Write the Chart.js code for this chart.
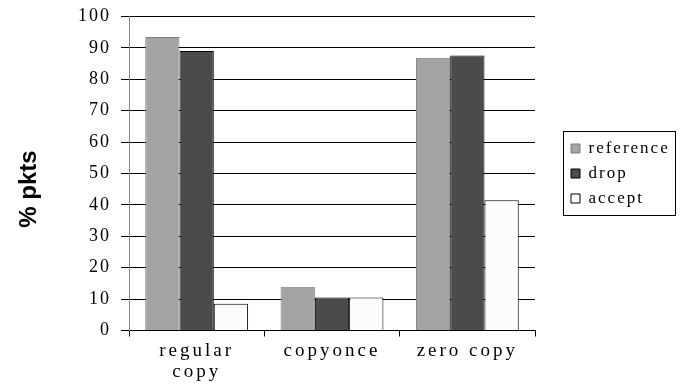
<!DOCTYPE html>
<html>
<head>
<meta charset="utf-8">
<script src="https://cdn.jsdelivr.net/npm/chart.js@4.4.1/dist/chart.umd.min.js"></script>
<style>
	html, body { margin: 0; padding: 0; background: #fff; }
	#wrap { width: 696px; height: 392px; }
</style>
</head>
<body>
<div id="wrap"><canvas id="chartPkts"></canvas></div>
<script>
const categories = [["regular", "copy"], "copyonce", "zero copy"];
const reference = [93.5, 13.9, 86.9];
const drop = [89.0, 10.5, 87.6];
const accept = [8.5, 10.5, 41.5];
const yTicks = [0, 10, 20, 30, 40, 50, 60, 70, 80, 90, 100];

// spacing of the letters, legend/y ticks first, x labels after the bars
const spacing = {
	id: 'spacing',
	beforeInit(chart) {
		const fit = chart.legend.fit;
		chart.legend.fit = function () {
			fit.call(this);
			this.width = 161;
		};
	},
	afterLayout(chart) {
		const lg = chart.legend;
		lg.left = 563;
		lg.right = 563 + 125;
	},
	beforeDraw(chart) {
		chart.ctx.letterSpacing = '2px';
	},
	afterDatasetsDraw(chart) {
		chart.ctx.letterSpacing = '3px';
	},
	afterDraw(chart) {
		const ctx = chart.ctx;
		const hb = chart.legend.legendHitBoxes;
		ctx.save();
		ctx.letterSpacing = '0px';
		// legend frame
		if (hb && hb.length) {
			const top = hb[0].top - 9;
			const last = hb[hb.length - 1];
			const bottom = last.top + last.height + 8;
			ctx.strokeStyle = '#000';
			ctx.lineWidth = 1;
			ctx.strokeRect(563.5, Math.round(top) + 0.5, 112, Math.round(bottom - top));
		}
		// y axis title
		ctx.translate(29, 189);
		ctx.rotate(-Math.PI / 2);
		ctx.font = 'bold 24px "Liberation Sans", Arial, sans-serif';
		ctx.fillStyle = '#000';
		ctx.textAlign = 'center';
		ctx.textBaseline = 'middle';
		ctx.fillText('% pkts', 0, 0);
		ctx.restore();
	}
};

new Chart(document.getElementById("chartPkts"), {
	type: 'bar',
	data: {
		labels: categories,
		datasets: [{
			data: reference,
			label: "reference",
			backgroundColor: "#a3a3a3",
			borderColor: "#7c7c7c",
			borderWidth: 1
		}, {
			data: drop,
			label: "drop",
			backgroundColor: "#4b4b4b",
			borderColor: "#000",
			borderWidth: 1
		}, {
			data: accept,
			label: "accept",
			backgroundColor: "#fcfcfc",
			borderColor: "#000",
			borderWidth: 1
		}]
	},
	options: {
		responsive: true,
		maintainAspectRatio: false,
		animation: false,
		devicePixelRatio: 1,
		categoryPercentage: 0.76,
		barPercentage: 1,
		layout: { padding: { top: 16.5, left: 0, right: 0, bottom: 0 } },
		plugins: {
			tooltip: { enabled: false },
			legend: {
				position: 'right',
				fullSize: false,
				labels: {
					boxWidth: 9,
					boxHeight: 9,
					padding: 8,
					color: '#000',
					font: { family: '"Liberation Serif", "Times New Roman", serif', size: 17 }
				}
			}
		},
		scales: {
			x: {
				afterFit(scale) { scale.height = 61.5; },
				grid: { drawOnChartArea: false, color: '#000', tickLength: 6, offset: true },
				border: { color: '#000' },
				ticks: {
					z: 1,
					color: '#000',
					padding: 4,
					maxRotation: 0,
					font: { family: '"Liberation Serif", "Times New Roman", serif', size: 19, lineHeight: 1.12 }
				}
			},
			y: {
				min: 0,
				max: 100,
				afterFit(scale) {
					scale.width = 129;
					scale.paddingTop = 0;
					scale.paddingBottom = 0;
				},
				afterBuildTicks(scale) { scale.ticks = yTicks.map(v => ({ value: v })); },
				grid: { color: '#000', tickLength: 8 },
				border: { color: '#888' },
				ticks: {
					color: '#000',
					padding: 10,
					font: { family: '"Liberation Serif", "Times New Roman", serif', size: 18 }
				}
			}
		}
	},
	plugins: [spacing]
});
</script>
</body>
</html>
